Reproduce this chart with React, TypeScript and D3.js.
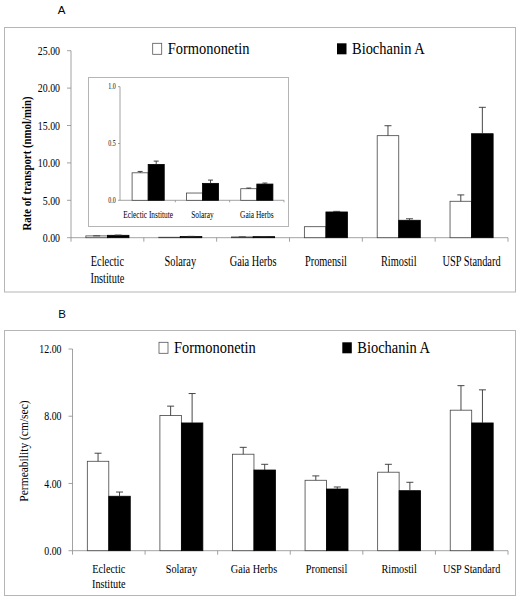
import React from "react";
import * as d3 from "d3";

const categoriesA = [["Eclectic", "Institute"], ["Solaray"], ["Gaia Herbs"], ["Promensil"], ["Rimostil"], ["USP Standard"]];
const seriesNames = ["Formononetin", "Biochanin A"];
const formA = [0.24, 0.06, 0.10, 1.47, 13.64, 4.87];
const formAErr = [0.01, 0.0, 0.01, 0.0, 1.33, 0.85];
const bioA = [0.32, 0.15, 0.14, 3.44, 2.33, 13.9];
const bioAErr = [0.03, 0.03, 0.01, 0.08, 0.2, 3.53];
const ticksA = [0, 5, 10, 15, 20, 25];

const insetCats = ["Eclectic Institute", "Solaray", "Gaia Herbs"];
const formInset = [0.242, 0.064, 0.102];
const formInsetErr = [0.012, 0.0, 0.006];
const bioInset = [0.316, 0.149, 0.143];
const bioInsetErr = [0.029, 0.029, 0.009];
const ticksInset = [0, 0.5, 1.0];

const formB = [5.32, 8.04, 5.74, 4.19, 4.67, 8.36];
const formBErr = [0.48, 0.56, 0.41, 0.26, 0.47, 1.46];
const bioB = [3.24, 7.6, 4.8, 3.67, 3.57, 7.6];
const bioBErr = [0.25, 1.75, 0.34, 0.12, 0.5, 1.97];
const ticksB = [0, 4, 8, 12];

const SERIF = "Liberation Serif, DejaVu Serif, serif";
const SANS = "Liberation Sans, Arial, sans-serif";
const AXIS = "#8a8a8a";
const BORDER = "#b5b5b5";

function T({ x, y, size, sx = 1, anchor = "start", weight = "normal", family = SERIF, rotate = 0, children }: any) {
  return (
    <g transform={`translate(${x},${y}) rotate(${rotate}) scale(${sx},1)`}>
      <text x={0} y={0} textAnchor={anchor} fill="#000"
        style={{ fontFamily: family, fontSize: `${size}px`, fontWeight: weight as any }}>
        {children}
      </text>
    </g>
  );
}

function Bars({ x, sub, y, f, fe, b, be, capW }: any) {
  const out: any[] = [];
  const n = f.length;
  for (let i = 0; i < n; i++) {
    const cx = x(i) as number;
    [
      { v: f[i], e: fe[i], s: 0 },
      { v: b[i], e: be[i], s: 1 },
    ].forEach(({ v, e, s }) => {
      const bx = cx + (sub(s) as number);
      const bw = sub.bandwidth();
      const top = y(v);
      const base = y(0);
      out.push(
        <rect key={`r${i}${s}`} x={bx} y={top} width={bw} height={base - top}
          fill={s === 0 ? "#fff" : "#000"} stroke={s === 0 ? "#444" : "#000"} strokeWidth={0.8} />
      );
      if (e > 0) {
        const mx = bx + bw / 2;
        out.push(<line key={`e${i}${s}`} x1={mx} x2={mx} y1={top} y2={y(v + e)} stroke="#333" strokeWidth={0.9} />);
        out.push(<line key={`c${i}${s}`} x1={mx - capW / 2} x2={mx + capW / 2} y1={y(v + e)} y2={y(v + e)} stroke="#333" strokeWidth={0.9} />);
      }
    });
  }
  return <g>{out}</g>;
}

function Axes({ x, y, x0, x1, ticks, fmt, labelSize, labelSx, n, tickLen = 4 }: any) {
  const y0 = y(0);
  return (
    <g>
      <line x1={x0} x2={x0} y1={y0} y2={y(ticks[ticks.length - 1])} stroke={AXIS} strokeWidth={0.8} />
      <line x1={x0} x2={x1} y1={y0} y2={y0} stroke={AXIS} strokeWidth={0.8} />
      {ticks.map((t: number) => (
        <g key={t}>
          <line x1={x0 - tickLen} x2={x0} y1={y(t)} y2={y(t)} stroke={AXIS} strokeWidth={0.8} />
          <T x={x0 - tickLen - 7} y={y(t) + labelSize * 0.33} size={labelSize} sx={labelSx} anchor="end">{fmt(t)}</T>
        </g>
      ))}
      {d3.range(n + 1).map((i) => {
        const px = i < n ? (x(i) as number) : x1;
        return <line key={`xt${i}`} x1={px} x2={px} y1={y0} y2={y0 + tickLen} stroke={AXIS} strokeWidth={0.8} />;
      })}
    </g>
  );
}

function Legend({ y, x1, x2 }: any) {
  return (
    <g>
      <rect x={x1} y={y - 11} width={9} height={11} fill="#fff" stroke="#555" strokeWidth={0.8} />
      <T x={x1 + 15} y={y} size={17} sx={0.85}>{seriesNames[0]}</T>
      <rect x={x2} y={y - 11} width={9.5} height={11} fill="#000" />
      <T x={x2 + 15} y={y} size={17} sx={0.85}>{seriesNames[1]}</T>
    </g>
  );
}

export default function App() {
  const idx = d3.range(categoriesA.length);

  const xA = d3.scaleBand<number>().domain(idx).range([71, 508]).padding(0);
  const subA = d3.scaleBand<number>().domain([0, 1]).range([0, xA.bandwidth()]).paddingInner(0).paddingOuter(0.69);
  const yA = d3.scaleLinear().domain([0, 25]).range([237.7, 50.7]);

  const idxI = d3.range(insetCats.length);
  const xI = d3.scaleBand<number>().domain(idxI).range([121, 284]).padding(0);
  const subI = d3.scaleBand<number>().domain([0, 1]).range([0, xI.bandwidth()]).paddingInner(0).paddingOuter(0.69);
  const yI = d3.scaleLinear().domain([0, 1]).range([200.3, 86.7]);

  const xB = d3.scaleBand<number>().domain(idx).range([72.5, 508]).padding(0);
  const subB = d3.scaleBand<number>().domain([0, 1]).range([0, xB.bandwidth()]).paddingInner(0).paddingOuter(0.69);
  const yB = d3.scaleLinear().domain([0, 12]).range([550.7, 349]);

  const f2 = (v: number) => v.toFixed(2);
  const f1 = (v: number) => v.toFixed(1);

  return (
    <svg width={520} height={599} style={{ position: "absolute", left: 0, top: 0, background: "#fff" }}>
      <rect x={0} y={0} width={520} height={599} fill="#fff" />
      {/* Panel A */}
      <T x={61.5} y={14} size={11.5} family={SANS} anchor="middle">A</T>
      <rect x={4.5} y={27.5} width={511} height={264.5} fill="none" stroke={BORDER} strokeWidth={1} />
      <Legend y={54.3} x1={152.7} x2={337} />
      <Axes x={xA} y={yA} x0={71} x1={508} ticks={ticksA} fmt={f2} labelSize={12.8} labelSx={0.77} n={6} />
      <Bars x={xA} sub={subA} y={yA} f={formA} fe={formAErr} b={bioA} be={bioAErr} capW={7} />
      {categoriesA.map((lines, i) =>
        lines.map((ln, j) => (
          <T key={`la${i}${j}`} x={(xA(i) as number) + xA.bandwidth() / 2} y={265.5 + j * 17} size={14} sx={0.74} anchor="middle">{ln}</T>
        ))
      )}
      <T x={31} y={163.5} size={12} weight="bold" sx={0.9} rotate={-90} anchor="middle">Rate of transport (nmol/min)</T>

      {/* Inset */}
      <rect x={88.5} y={77.5} width={200} height={149} fill="#fff" stroke={BORDER} strokeWidth={1} />
      <line x1={120} x2={120} y1={yI(0)} y2={yI(1)} stroke={AXIS} strokeWidth={0.8} />
      <line x1={120} x2={284} y1={yI(0)} y2={yI(0)} stroke={AXIS} strokeWidth={0.8} />
      {ticksInset.map((t) => (
        <g key={`it${t}`}>
          <line x1={118} x2={120} y1={yI(t)} y2={yI(t)} stroke={AXIS} strokeWidth={0.8} />
          <T x={115.7} y={yI(t) + 2.5} size={7.5} sx={0.8} anchor="end">{f1(t)}</T>
        </g>
      ))}
      {d3.range(1, insetCats.length + 1).map((i) => {
        const px = i < insetCats.length ? (xI(i) as number) : 284;
        return <line key={`ixt${i}`} x1={px} x2={px} y1={yI(0)} y2={yI(0) + 2} stroke={AXIS} strokeWidth={0.8} />;
      })}
      <Bars x={xI} sub={subI} y={yI} f={formInset} fe={formInsetErr} b={bioInset} be={bioInsetErr} capW={5} />
      {insetCats.map((c, i) => (
        <T key={`li${i}`} x={(xI(i) as number) + xI.bandwidth() / 2} y={218} size={10} sx={0.74} anchor="middle">{c}</T>
      ))}

      {/* Panel B */}
      <T x={62} y={318} size={11.5} family={SANS} anchor="middle">B</T>
      <rect x={4.5} y={330.5} width={511} height={265} fill="none" stroke={BORDER} strokeWidth={1} />
      <Legend y={353.3} x1={159} x2={342.3} />
      <Axes x={xB} y={yB} x0={72.5} x1={508} ticks={ticksB} fmt={f2} labelSize={12.8} labelSx={0.77} n={6} />
      <Bars x={xB} sub={subB} y={yB} f={formB} fe={formBErr} b={bioB} be={bioBErr} capW={7} />
      {categoriesA.map((lines, i) =>
        lines.map((ln, j) => (
          <T key={`lb${i}${j}`} x={(xB(i) as number) + xB.bandwidth() / 2} y={572.7 + j * 14.8} size={13.5} sx={0.76} anchor="middle">{ln}</T>
        ))
      )}
      <T x={28} y={451} size={12} sx={0.96} rotate={-90} anchor="middle">Permeability (cm/sec)</T>
    </svg>
  );
}
